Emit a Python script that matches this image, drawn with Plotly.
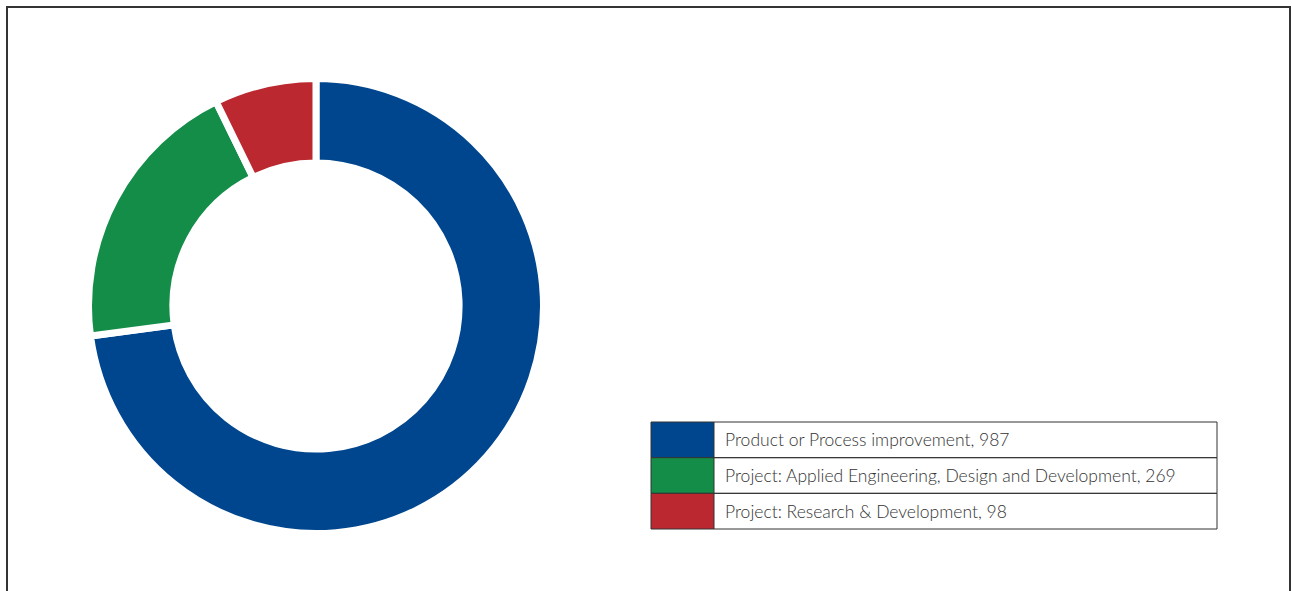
import plotly.graph_objects as go

# Project counts by category
categories = [
    "Product or Process improvement",
    "Project: Applied Engineering, Design and Development",
    "Project: Research & Development",
]
counts = [987, 269, 98]
colors = ["#00468E", "#138D48", "#BC2830"]

W, H = 1292, 591


def px_x(x):
    return x / W


def px_y(y):
    # pixel row measured from the top -> paper coordinate
    return 1 - y / H


# Donut geometry (pixels)
cx, cy, r = 316, 306, 227.5
hole = 0.629

fig = go.Figure(
    go.Pie(
        labels=categories,
        values=counts,
        hole=hole,
        sort=False,
        direction="clockwise",
        rotation=0,
        marker=dict(colors=colors, line=dict(color="white", width=7)),
        textinfo="none",
        hoverinfo="label+value",
        showlegend=False,
        domain=dict(
            x=[px_x(cx - r), px_x(cx + r)],
            y=[px_y(cy + r), px_y(cy - r)],
        ),
    )
)

shapes = []
annotations = []

# Outer frame
shapes.append(dict(
    type="rect", xref="paper", yref="paper",
    x0=px_x(7), x1=px_x(1290), y0=px_y(600), y1=px_y(7),
    line=dict(color="#333333", width=2), fillcolor="rgba(0,0,0,0)",
))

# Legend table
lx0, lx1, lx2 = 651, 714, 1217
ly0, row_h = 422, 35.67
for i, (cat, n, col) in enumerate(zip(categories, counts, colors)):
    top = ly0 + i * row_h
    bot = top + row_h
    shapes.append(dict(
        type="rect", xref="paper", yref="paper",
        x0=px_x(lx0), x1=px_x(lx1), y0=px_y(bot), y1=px_y(top),
        line=dict(width=0), fillcolor=col,
    ))
    shapes.append(dict(
        type="rect", xref="paper", yref="paper",
        x0=px_x(lx0), x1=px_x(lx2), y0=px_y(bot), y1=px_y(top),
        line=dict(color="#333333", width=1), fillcolor="rgba(0,0,0,0)",
    ))
    annotations.append(dict(
        xref="paper", yref="paper",
        x=px_x(723), y=px_y((top + bot) / 2),
        xanchor="left", yanchor="middle",
        text=f"{cat}, {n}", showarrow=False,
        font=dict(family="Lato", size=17.5, color="#333333", weight=300),
    ))

# Vertical divider between swatch column and text column
shapes.append(dict(
    type="line", xref="paper", yref="paper",
    x0=px_x(lx1), x1=px_x(lx1), y0=px_y(ly0 + 3 * row_h), y1=px_y(ly0),
    line=dict(color="#333333", width=1),
))

fig.update_layout(
    width=W, height=H,
    margin=dict(l=0, r=0, t=0, b=0),
    paper_bgcolor="white",
    plot_bgcolor="white",
    shapes=shapes,
    annotations=annotations,
)

fig.write_html("out.html")
